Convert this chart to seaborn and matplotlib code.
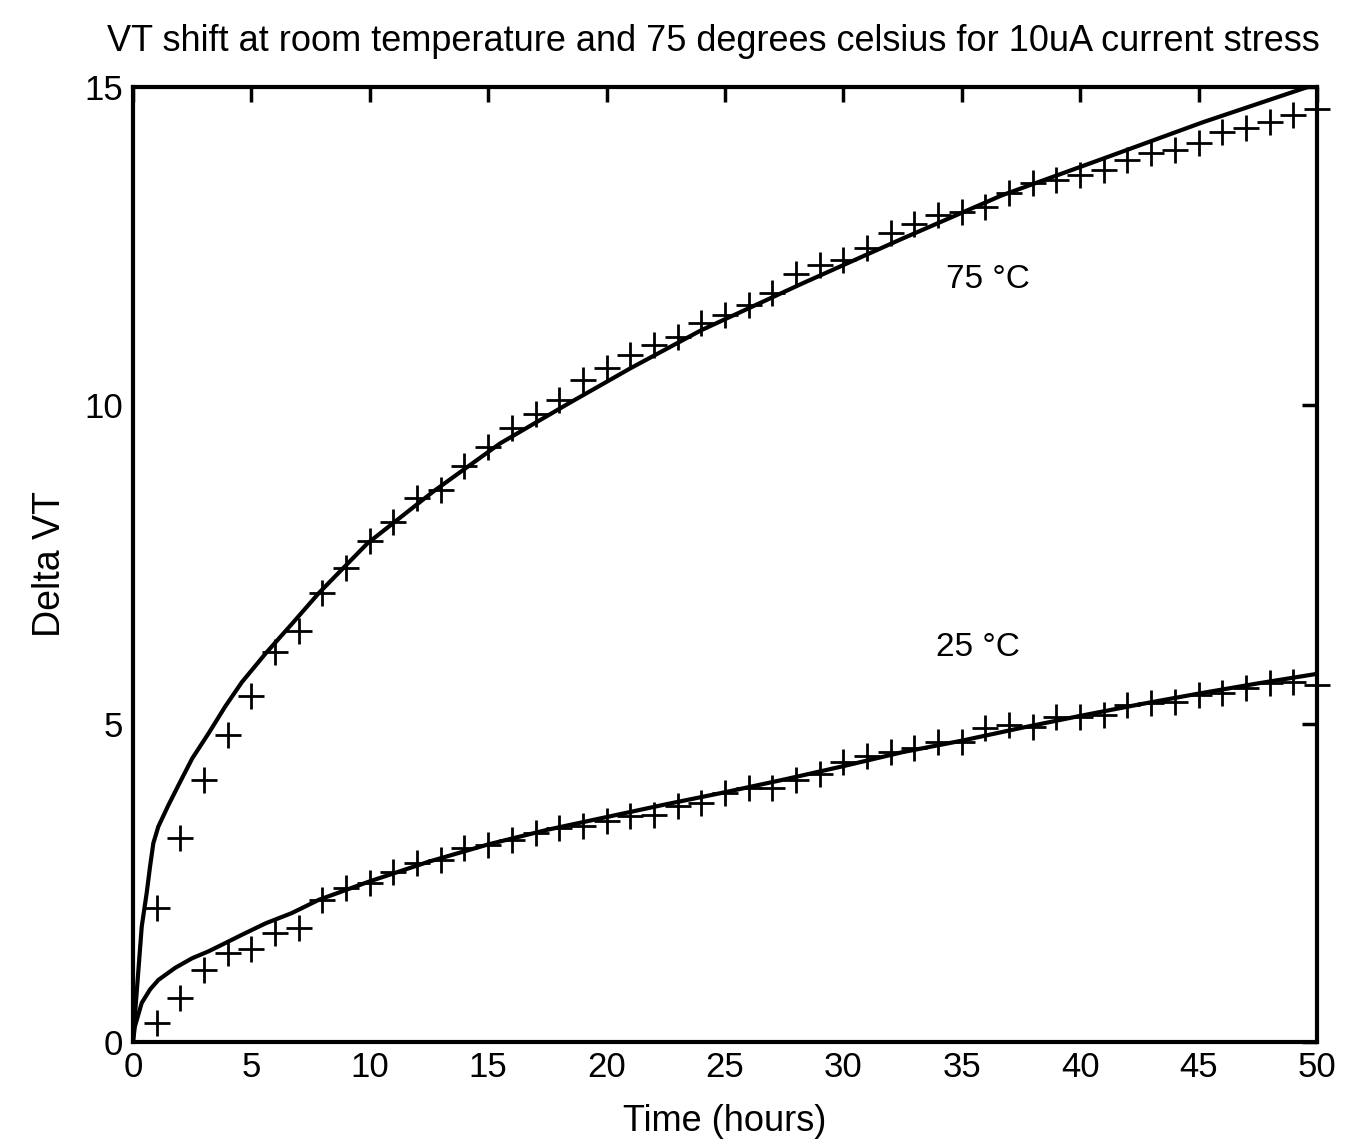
import numpy as np
import pandas as pd
import seaborn as sns
import matplotlib
matplotlib.use("Agg")
import matplotlib.pyplot as plt

# measured points (hours, delta VT)
hours = list(range(1, 51))
vt_75 = [2.10, 3.20, 4.11, 4.82, 5.43, 6.12, 6.46, 7.05, 7.44, 7.86,
         8.17, 8.54, 8.67, 9.04, 9.35, 9.64, 9.87, 10.08, 10.40, 10.58,
         10.79, 10.95, 11.08, 11.29, 11.42, 11.58, 11.76, 12.07, 12.20, 12.28,
         12.47, 12.70, 12.85, 12.99, 13.04, 13.12, 13.33, 13.49, 13.54, 13.62,
         13.70, 13.85, 13.96, 14.01, 14.12, 14.30, 14.35, 14.45, 14.56, 14.66]
vt_25 = [0.30, 0.68, 1.13, 1.40, 1.46, 1.71, 1.79, 2.23, 2.41, 2.49,
         2.67, 2.81, 2.86, 3.04, 3.09, 3.17, 3.28, 3.36, 3.39, 3.47,
         3.54, 3.57, 3.70, 3.75, 3.91, 3.99, 3.99, 4.12, 4.20, 4.39,
         4.49, 4.56, 4.62, 4.71, 4.71, 4.93, 4.98, 4.95, 5.10, 5.10,
         5.14, 5.29, 5.32, 5.34, 5.45, 5.48, 5.56, 5.64, 5.65, 5.61]

# fitted curves
fit75_t = [0, 0.1, 0.23, 0.37, 0.58, 0.72, 0.86, 1.07, 1.5, 1.92, 2.5, 3.2, 3.9,
           4.6, 5.6, 6.7, 7.85, 9.9, 12.7, 15.5, 18.4, 21, 24, 28.3, 32.5,
           36.7, 41, 45.2, 50]
fit75_v = [0, 0.5, 1.13, 1.81, 2.34, 2.75, 3.12, 3.38, 3.72, 4.03, 4.45, 4.85, 5.27,
           5.65, 6.10, 6.56, 7.05, 7.83, 8.65, 9.40, 10.03, 10.58, 11.18, 11.92, 12.62,
           13.3, 13.88, 14.45, 15.05]
fit25_t = [0, 0.08, 0.37, 0.72, 1.07, 1.78, 2.49, 3.19, 3.9, 4.6, 5.6, 6.7, 7.85,
           10, 12.5, 15, 17.5, 20, 22.5, 25, 27.5, 30, 32.5, 35, 37.5, 40,
           42.5, 45, 47.5, 50]
fit25_v = [0, 0.24, 0.61, 0.82, 0.97, 1.16, 1.31, 1.42, 1.55, 1.68, 1.86, 2.02, 2.23,
           2.52, 2.83, 3.10, 3.33, 3.53, 3.73, 3.92, 4.12, 4.33, 4.55, 4.73, 4.93, 5.12,
           5.30, 5.47, 5.63, 5.78]

sns.set_style("white")
plt.rcParams['font.family'] = ['Liberation Sans', 'DejaVu Sans']
plt.rcParams['text.color'] = 'black'
plt.rcParams['axes.labelcolor'] = 'black'
plt.rcParams['xtick.color'] = 'black'
plt.rcParams['ytick.color'] = 'black'

fig = plt.figure(figsize=(13.5, 11.46), dpi=100)
ax = fig.add_axes([0.0985, 0.091, 0.877, 0.833])

sns.lineplot(x=fit75_t, y=fit75_v, color='black', linewidth=3, ax=ax)
sns.lineplot(x=fit25_t, y=fit25_v, color='black', linewidth=3, ax=ax)
sns.scatterplot(x=hours, y=vt_75, marker='+', s=330, color='black', linewidth=2, ax=ax, clip_on=False)
sns.scatterplot(x=hours, y=vt_25, marker='+', s=330, color='black', linewidth=2, ax=ax, clip_on=False)

ax.text(36.1, 11.97, '75 °C', fontsize=24, ha='center', va='center')
ax.text(35.7, 6.19, '25 °C', fontsize=24, ha='center', va='center')

ax.set_xlim(0, 50)
ax.set_ylim(0, 15)
ax.set_xticks(np.arange(0, 51, 5))
ax.set_yticks([0, 5, 10, 15])
ax.tick_params(direction='in', length=11, width=2.5, labelsize=25,
               top=True, right=True, pad=7)
for sp in ax.spines.values():
    sp.set_linewidth(3)
    sp.set_color('black')

ax.set_title('VT shift at room temperature and 75 degrees celsius for 10uA current stress',
             fontsize=26, pad=26, x=0.49)
ax.set_xlabel('Time (hours)', fontsize=26, labelpad=14)
ax.set_ylabel('Delta VT', fontsize=27, labelpad=12)

fig.savefig('out.png', dpi=100, facecolor='white')
